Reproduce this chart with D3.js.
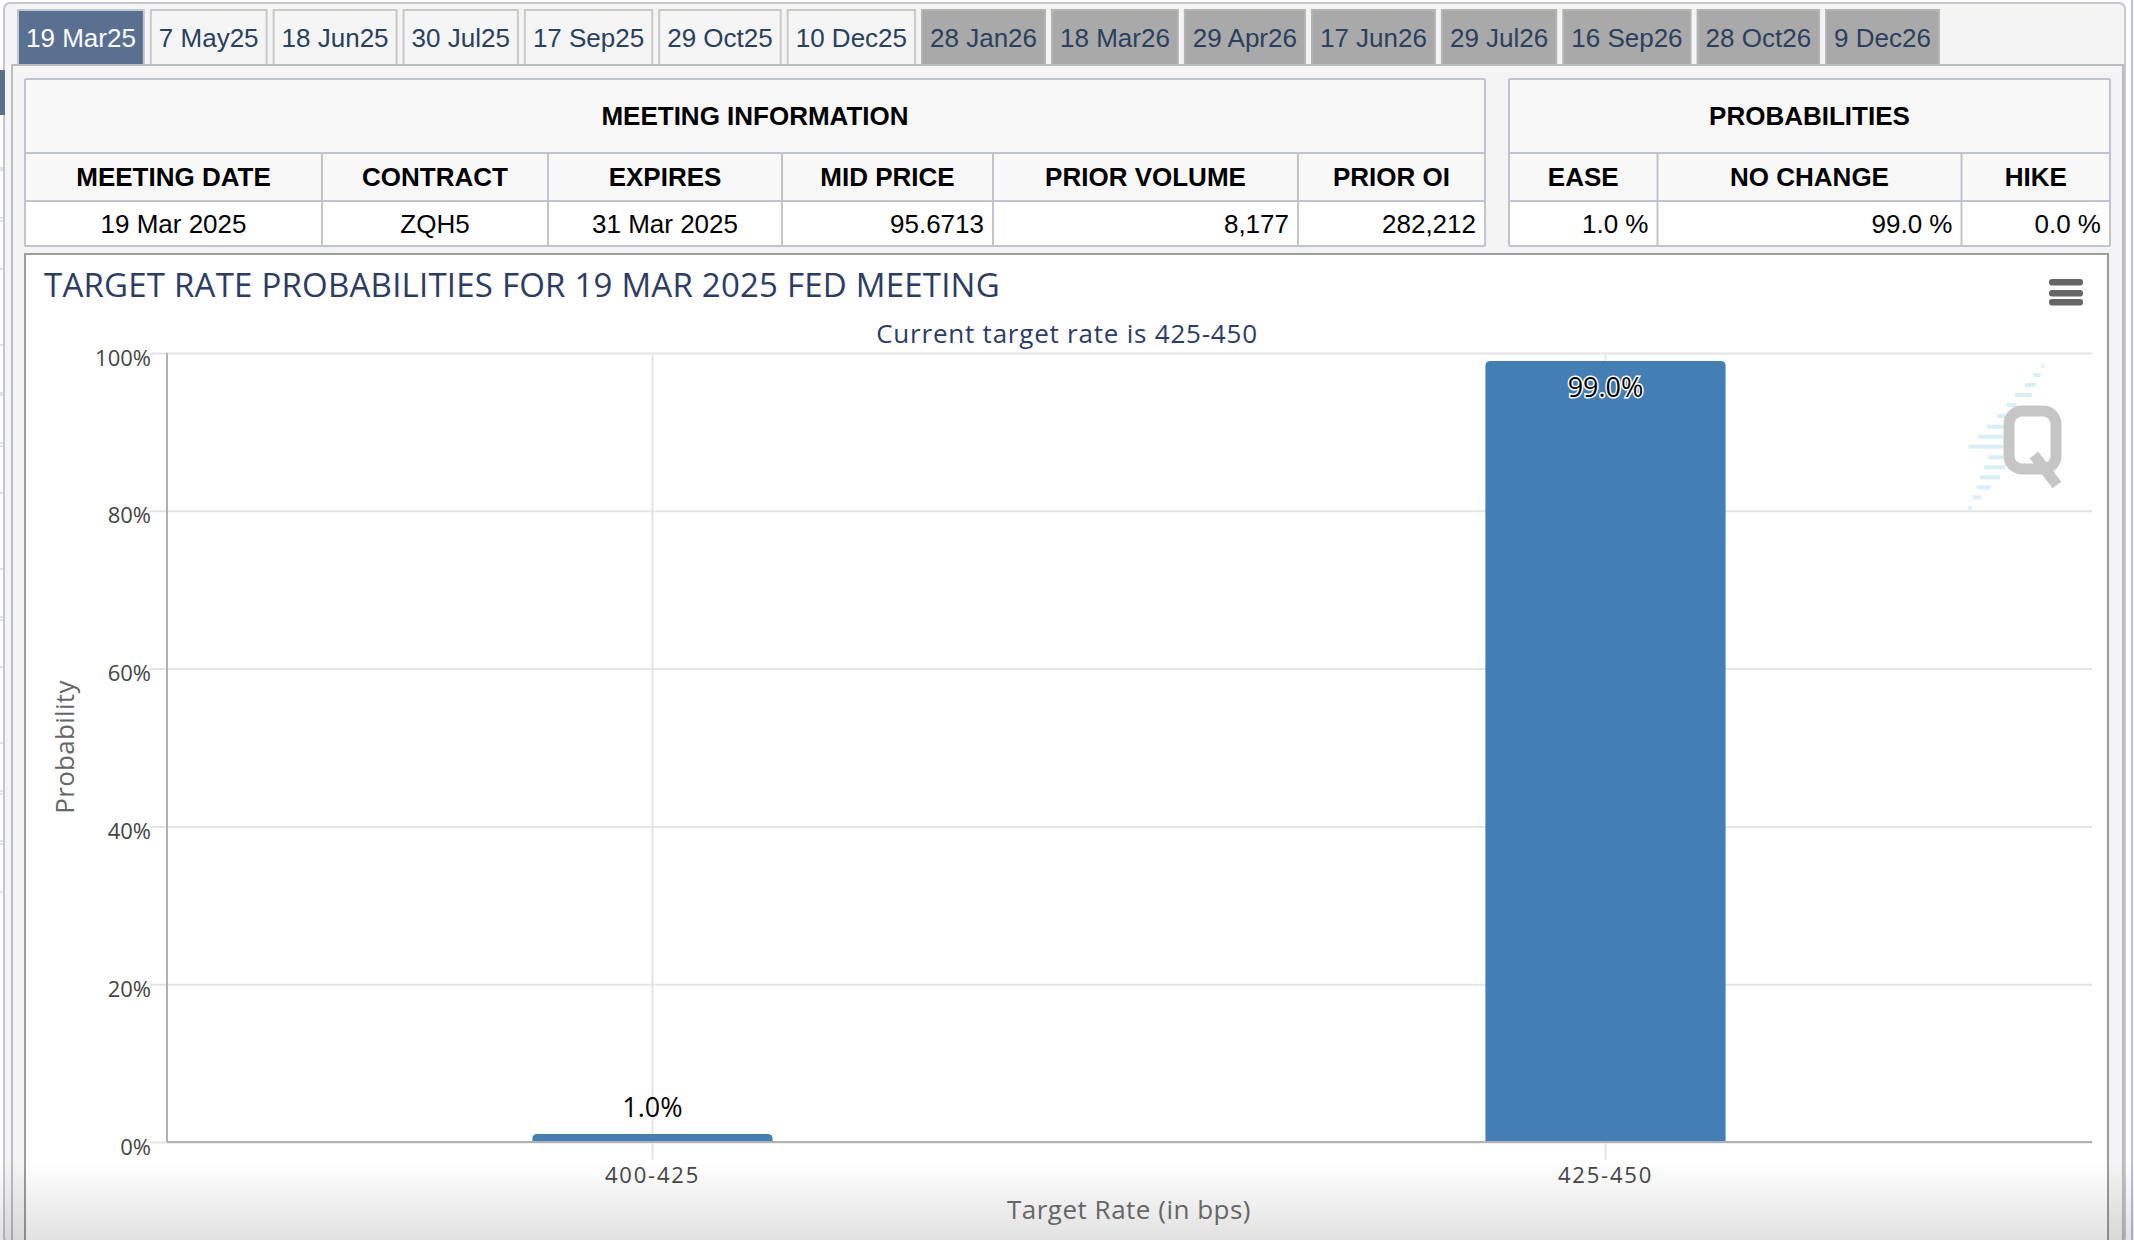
<!DOCTYPE html>
<html>
<head>
<meta charset="utf-8">
<title>Target rate probabilities</title>
<script src="https://cdn.jsdelivr.net/npm/d3@7"></script>
<style>
  html, body { margin: 0; padding: 0; background: #fff; }
  svg { display: block; }
  .tab text, .cell { font-family: "Liberation Sans", Arial, sans-serif; font-size: 26px; }
  .chartText { font-family: "Open Sans", sans-serif; }
</style>
</head>
<body>
<script>
// Data
var tabLabels = ["19 Mar25", "7 May25", "18 Jun25", "30 Jul25", "17 Sep25", "29 Oct25", "10 Dec25",
  "28 Jan26", "18 Mar26", "29 Apr26", "17 Jun26", "29 Jul26", "16 Sep26", "28 Oct26", "9 Dec26"];
var pastTabCount = 7;

var meetingHeaders = ["MEETING DATE", "CONTRACT", "EXPIRES", "MID PRICE", "PRIOR VOLUME", "PRIOR OI"];
var meetingValues = ["19 Mar 2025", "ZQH5", "31 Mar 2025", "95.6713", "8,177", "282,212"];
var probHeaders = ["EASE", "NO CHANGE", "HIKE"];
var probValues = ["1.0 %", "99.0 %", "0.0 %"];

var targetRates = ["400-425", "425-450"];
var probabilities = [1.0, 99.0];
var yTicks = [0, 20, 40, 60, 80, 100];

// Layout
var svgWidth = 2134;
var svgHeight = 1240;
var meetingCols = [25, 322, 548, 782, 993, 1298, 1485];
var probCols = [1509, 1657.5, 1961.5, 2110];
var rowY = [79, 153, 201, 246];
var plot = { left: 167, right: 2092, top: 353, bottom: 1142 };
// bits of the page behind, showing at the left edge
var edgeMarks = [168, 170, 218, 221, 269, 345, 393, 395, 443, 446, 493, 569, 617, 620, 667, 743, 791, 794, 841, 844, 892];

var svg = d3.select("body").append("svg")
  .attr("width", svgWidth)
  .attr("height", svgHeight);

// Page background and frames
svg.append("rect").attr("x", 4).attr("y", 3).attr("width", 2121).attr("height", 1240)
  .attr("rx", 6).attr("fill", "#f4f4f5").attr("stroke", "#c4c6d2").attr("stroke-width", 2);
svg.append("line").attr("x1", 2132).attr("x2", 2132).attr("y1", 0).attr("y2", 1240)
  .attr("stroke", "#bcbfd0").attr("stroke-width", 2);
svg.append("rect").attr("x", 0).attr("y", 70).attr("width", 5).attr("height", 45).attr("fill", "#5a7090");
svg.append("g").selectAll("line").data(edgeMarks).enter().append("line")
  .attr("x1", 0).attr("x2", 3)
  .attr("y1", d => d).attr("y2", d => d)
  .attr("stroke", "#c4c6d2").attr("stroke-width", 1);

// Tabs, each one as wide as its label
var tabX = 18;
tabLabels.forEach(function(label, i) {
  var past = i < pastTabCount;
  var g = svg.append("g").attr("class", "tab");
  var rect = g.append("rect").attr("y", 10).attr("height", 56)
    .attr("fill", i === 0 ? "#5a7090" : (past ? "#f5f5f5" : "#a9a9a9"))
    .attr("stroke", i === 0 ? "#c2c6cf" : (past ? "#c9c9c9" : "#b4b4b4"))
    .attr("stroke-width", 2);
  var text = g.append("text").attr("y", 47)
    .attr("fill", i === 0 ? "#fff" : "#29405f")
    .text(label);
  var w = text.node().getComputedTextLength() + 16;
  rect.attr("x", tabX).attr("width", w);
  text.attr("x", tabX + 8);
  tabX += w + 7;
});

// Panel under the tabs
svg.append("rect").attr("x", 12).attr("y", 65).attr("width", 2111).attr("height", 1200)
  .attr("fill", "#f4f4f5").attr("stroke", "#bcbcbc").attr("stroke-width", 2);

// Chart container
svg.append("rect").attr("x", 25).attr("y", 254).attr("width", 2083).attr("height", 1000)
  .attr("fill", "#fff").attr("stroke", "#9c9c9c").attr("stroke-width", 2);

// Darkening at the foot of the page
var grad = svg.append("defs").append("linearGradient")
  .attr("id", "foot").attr("x1", 0).attr("x2", 0).attr("y1", 0).attr("y2", 1);
grad.append("stop").attr("offset", "0%").attr("stop-color", "#000").attr("stop-opacity", 0);
grad.append("stop").attr("offset", "100%").attr("stop-color", "#000").attr("stop-opacity", 0.115);
svg.append("rect").attr("x", 0).attr("y", 1160).attr("width", svgWidth).attr("height", 80)
  .attr("fill", "url(#foot)");

// Tables
function drawTable(title, cols, headers, values) {
  var g = svg.append("g");
  var left = cols[0], right = cols[cols.length - 1];
  g.append("rect").attr("x", left).attr("y", rowY[0]).attr("width", right - left).attr("height", rowY[2] - rowY[0])
    .attr("fill", "#f8f8f8");
  g.append("rect").attr("x", left).attr("y", rowY[2]).attr("width", right - left).attr("height", rowY[3] - rowY[2])
    .attr("fill", "#fff");

  g.selectAll(".hline").data(rowY).enter().append("line")
    .attr("x1", left).attr("x2", right)
    .attr("y1", d => d).attr("y2", d => d)
    .attr("stroke", "#c1c4d0").attr("stroke-width", 2);
  g.selectAll(".vline").data(cols).enter().append("line")
    .attr("x1", d => d).attr("x2", d => d)
    .attr("y1", (d, i) => (i === 0 || i === cols.length - 1) ? rowY[0] : rowY[1])
    .attr("y2", rowY[3])
    .attr("stroke", "#c1c4d0").attr("stroke-width", 2);

  g.append("text").attr("class", "cell")
    .attr("x", (left + right) / 2).attr("y", 125)
    .attr("text-anchor", "middle").attr("font-weight", "bold")
    .text(title);

  g.selectAll(".head").data(headers).enter().append("text")
    .attr("class", "cell")
    .attr("x", (d, i) => (cols[i] + cols[i + 1]) / 2).attr("y", 186)
    .attr("text-anchor", "middle").attr("font-weight", "bold")
    .text(d => d);

  g.selectAll(".val").data(values).enter().append("text")
    .attr("class", "cell")
    .attr("x", (d, i) => /[,.]/.test(d) && !/Mar/.test(d) ? cols[i + 1] - 9 : (cols[i] + cols[i + 1]) / 2)
    .attr("y", 233)
    .attr("text-anchor", d => /[,.]/.test(d) && !/Mar/.test(d) ? "end" : "middle")
    .text(d => d);
}
drawTable("MEETING INFORMATION", meetingCols, meetingHeaders, meetingValues);
drawTable("PROBABILITIES", probCols, probHeaders, probValues);

// Titles
svg.append("text").attr("class", "chartText")
  .attr("x", 44).attr("y", 297)
  .attr("font-size", 33).attr("letter-spacing", 0.22).attr("fill", "#2d3c63")
  .text("TARGET RATE PROBABILITIES FOR 19 MAR 2025 FED MEETING");
svg.append("text").attr("class", "chartText")
  .attr("x", 1067).attr("y", 343)
  .attr("text-anchor", "middle").attr("font-size", 26).attr("letter-spacing", 0.78).attr("fill", "#2d3c63")
  .text("Current target rate is 425-450");

// Menu icon
[279, 290, 299].forEach(function(y) {
  svg.append("rect").attr("x", 2049).attr("y", y).attr("width", 34).attr("height", 6.5)
    .attr("rx", 3).attr("fill", "#666");
});

// Scales
var xScale = d3.scaleBand()
  .domain(targetRates)
  .range([176, 2082])
  .paddingInner(0.748)
  .paddingOuter(0.374);

var yScale = d3.scaleLinear()
  .domain([0, 100])
  .range([plot.bottom, plot.top]);

// Watermark
var logo = svg.append("g");
var logoDashes = [[275, 282, 48], [250, 272, 75], [225, 258, 105], [195, 245, 135], [170, 200, 165],
  [140, 165, 198], [112, 160, 230], [85, 160, 260], [55, 160, 290], [115, 160, 322],
  [103, 165, 352], [90, 150, 382], [80, 122, 412], [68, 95, 442], [55, 65, 475]];
logo.selectAll("rect").data(logoDashes).enter().append("rect")
  .attr("x", d => 1950 + d[0] / 3)
  .attr("y", d => 350 + d[2] / 3 - 2)
  .attr("width", d => (d[1] - d[0]) / 3)
  .attr("height", 4)
  .attr("fill", "#d9eff7");
logo.append("rect").attr("x", 2009).attr("y", 411).attr("width", 47).attr("height", 58)
  .attr("rx", 13).attr("fill", "none").attr("stroke", "#c6c6c6").attr("stroke-width", 11);
logo.append("line").attr("x1", 2034).attr("y1", 455).attr("x2", 2057).attr("y2", 485)
  .attr("stroke", "#c6c6c6").attr("stroke-width", 11);

// Axes
var leftAxis = d3.axisLeft(yScale)
  .tickValues(yTicks)
  .tickFormat(d => d + "%")
  .tickSizeOuter(0);
var bottomAxis = d3.axisBottom(xScale).tickSizeOuter(0);

var yAxisG = svg.append("g").attr("class", "chartText")
  .attr("transform", `translate(${plot.left}, 0)`)
  .call(leftAxis);
yAxisG.select(".domain").remove();
yAxisG.selectAll(".tick line")
  .attr("x1", -17).attr("x2", plot.right - plot.left)
  .attr("stroke", "#e4e4e4").attr("stroke-width", 2);
yAxisG.selectAll(".tick text")
  .attr("x", -16).attr("dy", "0.55em")
  .attr("font-family", "Open Sans").attr("font-size", 22).attr("fill", "#444");

var xAxisG = svg.append("g").attr("class", "chartText")
  .attr("transform", `translate(0, ${plot.bottom})`)
  .call(bottomAxis);
xAxisG.select(".domain").remove();
xAxisG.selectAll(".tick line")
  .attr("y1", plot.top - plot.bottom).attr("y2", 18)
  .attr("stroke", "#e4e4e4").attr("stroke-width", 2);
xAxisG.selectAll(".tick text")
  .attr("y", 25).attr("dy", "0.71em")
  .attr("font-family", "Open Sans").attr("font-size", 22).attr("letter-spacing", 1.8).attr("fill", "#444");

// Bars, rounded at the top only
function barPath(d, i) {
  var x0 = xScale(targetRates[i]), x1 = x0 + xScale.bandwidth();
  var y0 = yScale(0), y1 = yScale(d);
  var r = Math.min(5, y0 - y1);
  var p = d3.path();
  p.moveTo(x0, y0);
  p.lineTo(x0, y1 + r);
  p.quadraticCurveTo(x0, y1, x0 + r, y1);
  p.lineTo(x1 - r, y1);
  p.quadraticCurveTo(x1, y1, x1, y1 + r);
  p.lineTo(x1, y0);
  p.closePath();
  return p.toString();
}
svg.append("g").selectAll("path").data(probabilities).enter().append("path")
  .attr("d", barPath)
  .attr("fill", "#437fb5");

// Axis lines over the bars
svg.append("line").attr("x1", plot.left).attr("x2", plot.left).attr("y1", plot.top).attr("y2", plot.bottom)
  .attr("stroke", "#b0b0b0").attr("stroke-width", 2);
svg.append("line").attr("x1", plot.left).attr("x2", plot.right).attr("y1", plot.bottom).attr("y2", plot.bottom)
  .attr("stroke", "#b0b0b0").attr("stroke-width", 2);

// Data labels
svg.append("g").selectAll("text").data(probabilities).enter().append("text")
  .attr("class", "chartText")
  .attr("x", (d, i) => xScale(targetRates[i]) + xScale.bandwidth() / 2)
  .attr("y", d => d > 50 ? yScale(d) + 36 : yScale(d) - 17)
  .attr("text-anchor", "middle")
  .attr("font-size", 27)
  .attr("fill", "#000")
  .attr("stroke", d => d > 50 ? "#fff" : "none")
  .attr("stroke-width", 3)
  .attr("paint-order", "stroke")
  .text(d => d.toFixed(1) + "%");

// Axis titles
svg.append("text").attr("class", "chartText")
  .attr("transform", "translate(74, 747) rotate(-90)")
  .attr("text-anchor", "middle").attr("font-size", 26).attr("letter-spacing", 0.3).attr("fill", "#666")
  .text("Probability");
svg.append("text").attr("class", "chartText")
  .attr("x", 1129).attr("y", 1219)
  .attr("text-anchor", "middle").attr("font-size", 26).attr("letter-spacing", 0.5).attr("fill", "#666")
  .text("Target Rate (in bps)");
</script>
</body>
</html>
